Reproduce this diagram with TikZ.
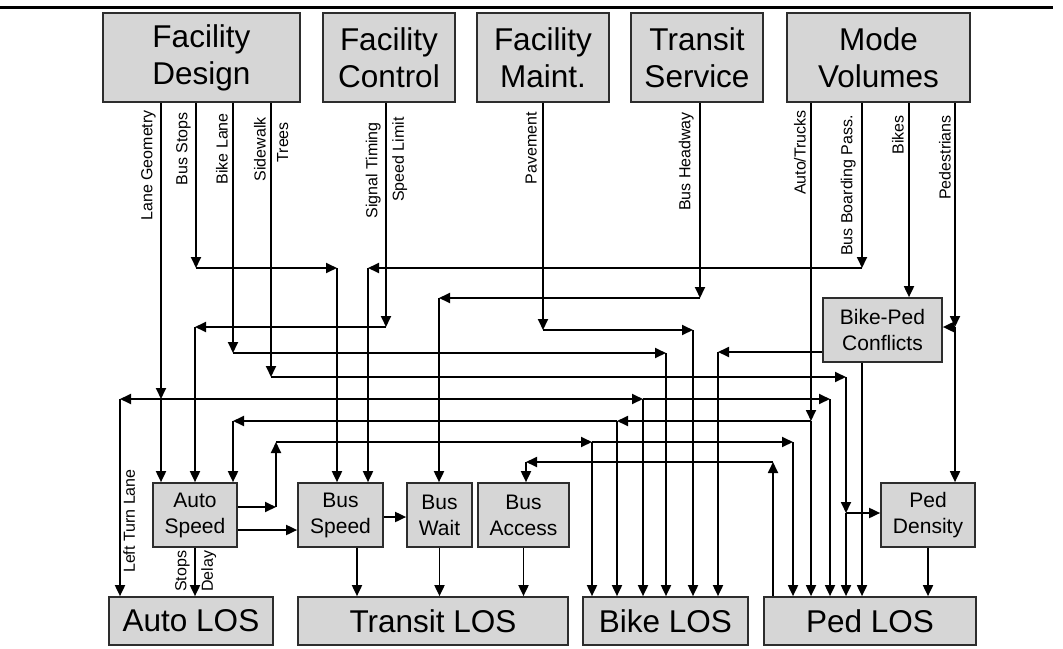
\documentclass[tikz,border=0pt]{standalone}
\usepackage{fontspec}
\setmainfont{Liberation Sans}
\usetikzlibrary{arrows.meta}
\definecolor{boxfill}{RGB}{214,214,214}
\definecolor{boxline}{RGB}{45,45,45}
\tikzset{
  box/.style={draw=boxline, line width=1.7pt, fill=boxfill, inner sep=0pt, align=center, text=black},
  bigbox/.style={box, font=\fontsize{31.5}{37}\selectfont},
  midbox/.style={box, font=\fontsize{21}{26}\selectfont},
  arr/.style={line width=1.8pt, draw=black, -{Triangle[length=11pt,width=10pt]}},
  lab/.style={font=\fontsize{16}{19}\selectfont, rotate=90, inner sep=0pt},
}
\begin{document}
\begin{tikzpicture}[x=1pt,y=-1pt]
\useasboundingbox (0,0) rectangle (1063,648);
\draw[line width=3pt] (0,7) -- (1053,7);

% top boxes
\node[bigbox, minimum width=197pt, minimum height=89pt] (fd) at (201.5,57.5) {Facility\\Design};
\node[bigbox, minimum width=132pt, minimum height=89pt] (fc) at (389,57.5) {Facility\\Control};
\node[bigbox, minimum width=132pt, minimum height=89pt] (fm) at (543,57.5) {Facility\\Maint.};
\node[bigbox, minimum width=132pt, minimum height=89pt] (ts) at (697,57.5) {Transit\\Service};
\node[bigbox, minimum width=183pt, minimum height=89pt] (mv) at (878.5,57.5) {Mode\\Volumes};

% middle boxes
\node[midbox, minimum width=119pt, minimum height=64pt] (bpc) at (882.5,330) {Bike-Ped\\Conflicts};
\node[midbox, minimum width=84pt, minimum height=64pt] (as) at (195,515) {Auto\\Speed};
\node[midbox, minimum width=85pt, minimum height=64pt] (bs) at (340.5,515) {Bus\\Speed};
\node[midbox, minimum width=65pt, minimum height=64pt] (bw) at (439.5,515) {Bus\\Wait};
\node[midbox, minimum width=91pt, minimum height=64pt] (ba) at (523.5,515) {Bus\\Access};
\node[midbox, minimum width=94pt, minimum height=64pt] (pd) at (928,515) {Ped\\Density};

% bottom boxes
\node[bigbox, minimum width=164pt, minimum height=48pt] (alos) at (191,621) {Auto LOS};
\node[bigbox, minimum width=270pt, minimum height=48pt] (tlos) at (433,621) {Transit LOS};
\node[bigbox, minimum width=165pt, minimum height=48pt] (blos) at (665.5,621) {Bike LOS};
\node[bigbox, minimum width=212pt, minimum height=48pt] (plos) at (870,621) {Ped LOS};

% junction coordinates
\coordinate (lg) at (161,399);
\coordinate (lgl) at (120,399);
\coordinate (lg1) at (643,399);
\coordinate (lg2) at (830,399);
\coordinate (bs0) at (196,268);
\coordinate (bs1) at (337,268);
\coordinate (bl0) at (233,353);
\coordinate (bl1) at (666,353);
\coordinate (sw0) at (271,377);
\coordinate (sw1) at (846,377);
\coordinate (sw2) at (846,513);
\coordinate (st0) at (386,327);
\coordinate (st1) at (195,327);
\coordinate (pv0) at (543,330);
\coordinate (pv1) at (693,330);
\coordinate (bh0) at (700,298);
\coordinate (bh1) at (439,298);
\coordinate (at0) at (811,421);
\coordinate (at1) at (617,421);
\coordinate (at2) at (233,421);
\coordinate (bb0) at (862,268);
\coordinate (bb1) at (368,268);
\coordinate (bk) at (909,200);
\coordinate (pe0) at (955,327);
\coordinate (bp0) at (718,352);
\coordinate (bp1) at (862,450);
\coordinate (as0) at (276,507);
\coordinate (as1) at (276,442);
\coordinate (as2) at (592,442);
\coordinate (as3) at (793,442);
\coordinate (ab) at (290,530);
\coordinate (sb) at (395,517);
\coordinate (bsd) at (357,570);
\coordinate (pl0) at (773,462);
\coordinate (pl1) at (526,462);

% Lane Geometry
\draw[arr] (fd.south -| lg) -- (lg);
\draw[arr] (lg) -- (as.north -| lg);
\draw[arr] (lg) -- (lgl);
\draw[arr] (lgl) -- (alos.north -| lgl);
\draw[arr] (lg) -- (lg1);
\draw[arr] (lg1) -- (blos.north -| lg1);
\draw[arr] (lg1) -- (lg2);
\draw[arr] (lg2) -- (plos.north -| lg2);
% Bus Stops
\draw[arr] (fd.south -| bs0) -- (bs0);
\draw[arr] (bs0) -- (bs1);
\draw[arr] (bs1) -- (bs.north -| bs1);
% Bike Lane
\draw[arr] (fd.south -| bl0) -- (bl0);
\draw[arr] (bl0) -- (bl1);
\draw[arr] (bl1) -- (blos.north -| bl1);
% Sidewalk / Trees
\draw[arr] (fd.south -| sw0) -- (sw0);
\draw[arr] (sw0) -- (sw1);
\draw[arr] (sw1) -- (sw2);
\draw[arr] (sw2) -- (plos.north -| sw2);
\draw[arr] (sw2) -- (pd.west |- sw2);
% Signal Timing / Speed Limit
\draw[arr] (fc.south -| st0) -- (st0);
\draw[arr] (st0) -- (st1);
\draw[arr] (st1) -- (as.north -| st1);
% Pavement
\draw[arr] (fm.south -| pv0) -- (pv0);
\draw[arr] (pv0) -- (pv1);
\draw[arr] (pv1) -- (blos.north -| pv1);
% Bus Headway
\draw[arr] (ts.south -| bh0) -- (bh0);
\draw[arr] (bh0) -- (bh1);
\draw[arr] (bh1) -- (bw.north -| bh1);
% Auto/Trucks
\draw[arr] (mv.south -| at0) -- (at0);
\draw[arr] (at0) -- (plos.north -| at0);
\draw[arr] (at0) -- (at1);
\draw[arr] (at1) -- (blos.north -| at1);
\draw[arr] (at1) -- (at2);
\draw[arr] (at2) -- (as.north -| at2);
% Bus Boarding Pass.
\draw[arr] (mv.south -| bb0) -- (bb0);
\draw[arr] (bb0) -- (bb1);
\draw[arr] (bb1) -- (bs.north -| bb1);
% Bikes
\draw[arr] (mv.south -| bk) -- (bpc.north -| bk);
% Pedestrians
\draw[arr] (mv.south -| pe0) -- (pe0);
\draw[arr] (pe0) -- (bpc.east |- pe0);
\draw[arr] (pe0) -- (pd.north -| pe0);
% Bike-Ped Conflicts
\draw[arr] (bpc.west |- bp0) -- (bp0);
\draw[arr] (bp0) -- (blos.north -| bp0);
\draw[arr] (bpc.south -| bp1) -- (plos.north -| bp1);
% Auto Speed
\draw[arr] (as.east |- as0) -- (as0);
\draw[arr] (as0) -- (as1);
\draw[arr] (as1) -- (as2);
\draw[arr] (as2) -- (blos.north -| as2);
\draw[arr] (as2) -- (as3);
\draw[arr] (as3) -- (plos.north -| as3);
\draw[arr] (as.east |- ab) -- (bs.west |- ab);
\draw[arr] (as.south) -- (alos.north -| as.south);
% Bus Speed, Bus Wait, Bus Access, Ped Density
\draw[arr] (bs.east |- sb) -- (bw.west |- sb);
\draw[arr] (bs.south -| bsd) -- (tlos.north -| bsd);
\draw[arr] (bw.south) -- (tlos.north -| bw.south);
\draw[arr] (ba.south) -- (tlos.north -| ba.south);
\draw[arr] (pd.south) -- (plos.north -| pd.south);
% Ped LOS -> Bus Access
\draw[arr] (plos.north -| pl0) -- (pl0);
\draw[arr] (pl0) -- (pl1);
\draw[arr] (pl1) -- (ba.north -| pl1);

% labels
\node[lab, anchor=south east] (tLG) at (156,110) {Lane Geometry};
\node[lab, anchor=south east] (tBS) at (191,112) {Bus Stops};
\node[lab, anchor=south east] (tBL) at (228,113) {Bike Lane};
\node[lab, anchor=south east] (tSW) at (266,117) {Sidewalk};
\node[lab, anchor=north east] (tTR) at (277,122) {Trees};
\node[lab, anchor=south east] (tST) at (381,122) {Signal Timing};
\node[lab, anchor=north east] (tSL) at (392,117) {Speed Limit};
\node[lab, anchor=south east] (tPV) at (537,112) {Pavement};
\node[lab, anchor=south east] (tBH) at (694,112) {Bus Headway};
\node[lab, anchor=south east] (tAT) at (806,110) {Auto/Trucks};
\node[lab, anchor=south east] (tBB) at (856,115) {Bus Boarding Pass.};
\node[lab, anchor=south east] (tBK) at (904,115) {Bikes};
\node[lab, anchor=south east] (tPE) at (951,115) {Pedestrians};
\node[lab, anchor=north west] (tLT) at (123,573) {Left Turn Lane};
\node[lab, anchor=south west] (tSP) at (190,592) {Stops};
\node[lab, anchor=north west] (tDL) at (201,592) {Delay};
\end{tikzpicture}
\end{document}
